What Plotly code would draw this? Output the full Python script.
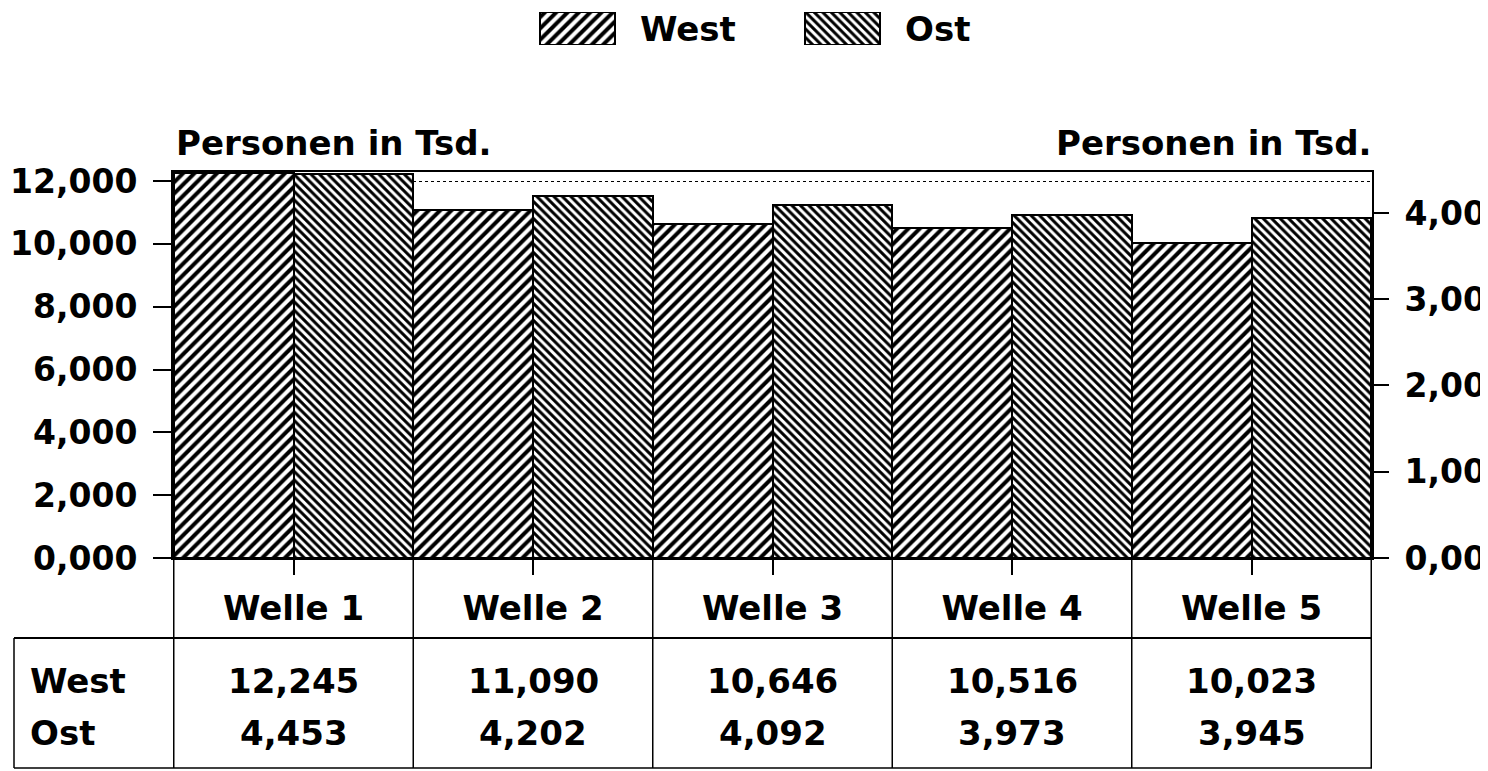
import plotly.graph_objects as go

# ---- data ----
categories = ["Welle 1", "Welle 2", "Welle 3", "Welle 4", "Welle 5"]
west = [12245, 11090, 10646, 10516, 10023]
ost = [4453, 4202, 4092, 3973, 3945]
west_labels = ["12,245", "11,090", "10,646", "10,516", "10,023"]
ost_labels = ["4,453", "4,202", "4,092", "3,973", "3,945"]
left_tickvals = [0, 2000, 4000, 6000, 8000, 10000, 12000]
left_ticktext = ["0,000", "2,000", "4,000", "6,000", "8,000", "10,000", "12,000"]
right_tickvals = [0, 1000, 2000, 3000, 4000]
right_ticktext = ["0,00", "1,00", "2,00", "3,00", "4,00"]
axis_title = "Personen in Tsd."

FONT = "DejaVu Sans"
FS = 34
OFF = 8                    # page body margin
W, H = 1488 - OFF, 771 - OFF
# layout positions expressed in reference-image pixels
REF_LEFT, REF_RIGHT, REF_TOP, REF_ZERO = 173, 1372, 172, 558
ML = REF_LEFT - OFF
MR = W - (REF_RIGHT - OFF)
MB = H - (REF_ZERO - OFF)
MT = 2
PH = H - MT - MB
PW = W - ML - MR


def py(ref_y):
    """reference pixel y -> paper y"""
    return ((REF_ZERO - OFF) - (ref_y - OFF)) / PH


def px(ref_x):
    return ((ref_x - OFF) - ML) / PW


dom_top = py(REF_TOP)

west_pat = dict(shape="/", size=8, solidity=0.5, fgcolor="black", bgcolor="white", fillmode="replace")
ost_pat = dict(shape="\\", size=6, solidity=0.5, fgcolor="black", bgcolor="white", fillmode="replace")

fig = go.Figure()
fig.add_trace(go.Bar(
    x=categories, y=west, name="West", yaxis="y", offsetgroup="1",
    marker=dict(color="white", pattern=west_pat, line=dict(color="black", width=2)),
    showlegend=False,
))
fig.add_trace(go.Bar(
    x=categories, y=ost, name="Ost", yaxis="y2", offsetgroup="2",
    marker=dict(color="white", pattern=ost_pat, line=dict(color="black", width=2)),
    showlegend=False,
))

# legend swatches on a small helper axis placed in the top band (ref-pixel units)
fig.add_trace(go.Bar(
    x=[577.5], y=[1], width=[75], xaxis="x3", yaxis="y3",
    marker=dict(color="white", pattern=west_pat, line=dict(color="black", width=2)),
    showlegend=False, hoverinfo="skip",
))
fig.add_trace(go.Bar(
    x=[842.5], y=[1], width=[75], xaxis="x3", yaxis="y3",
    marker=dict(color="white", pattern=ost_pat, line=dict(color="black", width=2)),
    showlegend=False, hoverinfo="skip",
))

font = dict(family=FONT, size=FS, color="black", weight="bold")
font_l = dict(family=FONT, size=33, color="black", weight="bold")
font_r = dict(family=FONT, size=33, color="black", weight="bold")

fig.update_layout(
    template="none",
    width=W, height=H, autosize=False,
    margin=dict(l=ML, r=MR, t=MT, b=MB, pad=0, autoexpand=False),
    paper_bgcolor="white", plot_bgcolor="white",
    barmode="group", bargap=0, bargroupgap=0,
    font=font,
    xaxis=dict(
        domain=[0, 1], anchor="y", automargin=False,
        showline=True, linecolor="black", linewidth=2, mirror=True,
        ticks="outside", ticklen=15, tickwidth=1.5, tickcolor="black",
        tickfont=font, ticklabelstandoff=4,
        showgrid=False, zeroline=False, fixedrange=True,
    ),
    yaxis=dict(
        domain=[0, dom_top], range=[0, 12290], automargin=False,
        tickvals=left_tickvals, ticktext=left_ticktext,
        showline=True, linecolor="black", linewidth=2, mirror=True,
        ticks="outside", ticklen=18, tickwidth=2, tickcolor="black",
        tickfont=font_l, ticklabelstandoff=9,
        showgrid=True, gridcolor="black", gridwidth=1, griddash="dot",
        zeroline=False, fixedrange=True,
    ),
    yaxis2=dict(
        overlaying="y", side="right", anchor="x", range=[0, 4475], automargin=False,
        tickvals=right_tickvals, ticktext=right_ticktext,
        showline=False,
        ticks="outside", ticklen=16, tickwidth=2, tickcolor="black",
        tickfont=font_r, ticklabelstandoff=9,
        showgrid=False, zeroline=False, fixedrange=True,
    ),
    xaxis3=dict(
        domain=[px(500), px(1000)], range=[500, 1000], anchor="y3",
        visible=False, fixedrange=True, automargin=False,
    ),
    yaxis3=dict(
        domain=[py(45), py(12)], range=[0, 1], anchor="x3",
        visible=False, fixedrange=True, automargin=False,
    ),
)

annotations = []
# legend texts
annotations.append(dict(text="West", xref="paper", yref="paper", x=px(638), y=py(29),
                        xanchor="left", yanchor="middle", showarrow=False, font=font))
annotations.append(dict(text="Ost", xref="paper", yref="paper", x=px(903), y=py(29),
                        xanchor="left", yanchor="middle", showarrow=False, font=font))
# axis titles
annotations.append(dict(text=axis_title, xref="paper", yref="paper", x=px(174), y=py(143),
                        xanchor="left", yanchor="middle", showarrow=False, font=font))
annotations.append(dict(text=axis_title, xref="paper", yref="paper", x=px(1374), y=py(143),
                        xanchor="right", yanchor="middle", showarrow=False, font=font))
# table rows
row_y = [py(681), py(733)]
annotations.append(dict(text="West", xref="paper", yref="paper", x=px(28), y=row_y[0],
                        xanchor="left", yanchor="middle", showarrow=False, font=font))
annotations.append(dict(text="Ost", xref="paper", yref="paper", x=px(28), y=row_y[1],
                        xanchor="left", yanchor="middle", showarrow=False, font=font))
for c, wl, ol in zip(categories, west_labels, ost_labels):
    annotations.append(dict(text=wl, xref="x", yref="paper", x=c, y=row_y[0],
                            xanchor="center", yanchor="middle", showarrow=False, font=font))
    annotations.append(dict(text=ol, xref="x", yref="paper", x=c, y=row_y[1],
                            xanchor="center", yanchor="middle", showarrow=False, font=font))
fig.update_layout(annotations=annotations)

# table grid lines
shapes = []
line = dict(color="black", width=1.5)
n = len(categories)
for i in range(n + 1):
    shapes.append(dict(type="line", xref="x", yref="paper", x0=i - 0.5, x1=i - 0.5,
                       y0=0, y1=py(768), line=line))
# horizontal separators
shapes.append(dict(type="line", xref="paper", yref="paper", x0=px(14), x1=1,
                   y0=py(638), y1=py(638), line=dict(color="black", width=2)))
shapes.append(dict(type="line", xref="paper", yref="paper", x0=px(14), x1=1,
                   y0=py(768), y1=py(768), line=line))
# left border of row-label column
shapes.append(dict(type="line", xref="paper", yref="paper", x0=px(14), x1=px(14),
                   y0=py(638), y1=py(768), line=line))
fig.update_layout(shapes=shapes)

fig.write_html("out.html")
